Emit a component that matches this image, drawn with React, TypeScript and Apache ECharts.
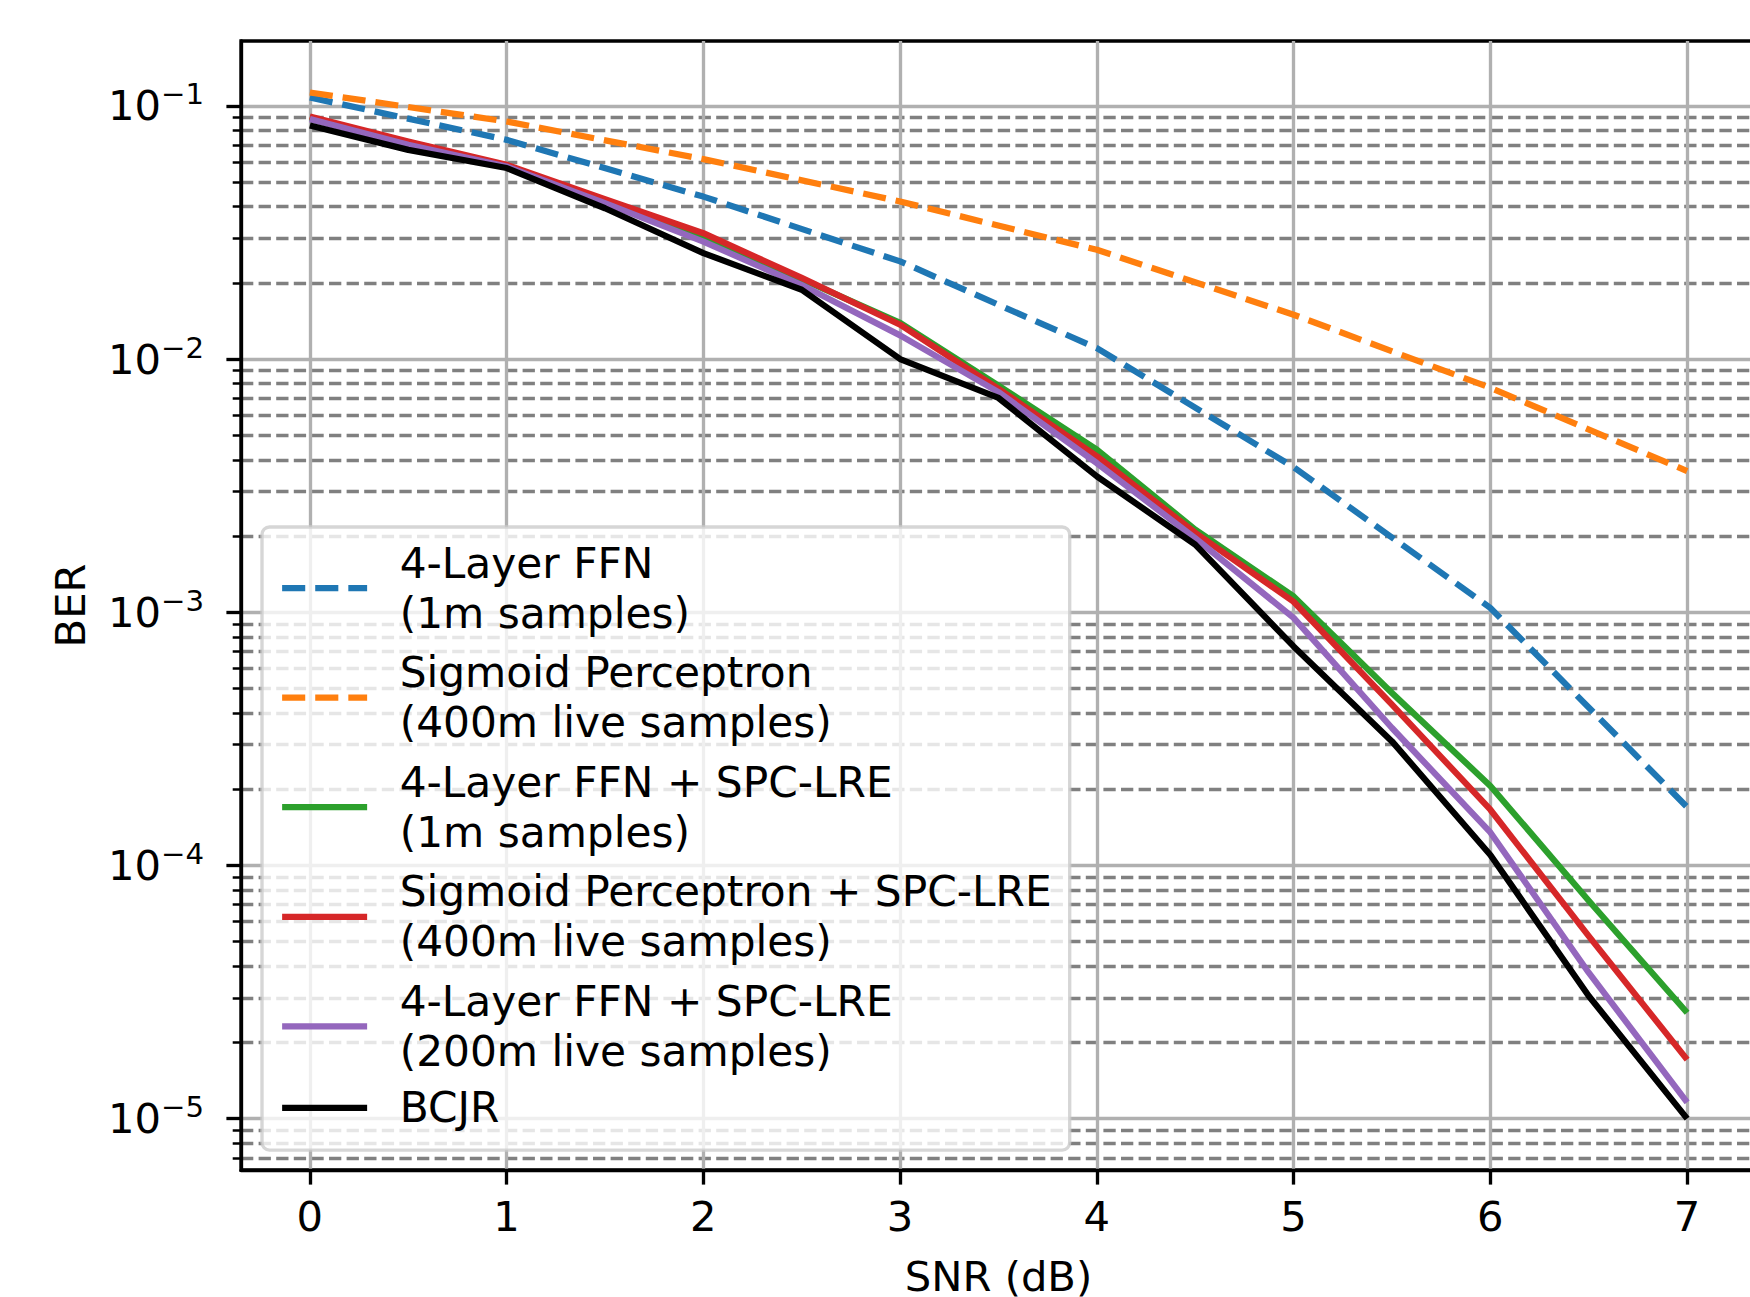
import React, { useEffect, useRef } from "react";
import * as echarts from "echarts";

// SNR grid (dB)
const snrHalf = [0, 0.5, 1, 1.5, 2, 2.5, 3, 3.5, 4, 4.5, 5, 5.5, 6, 6.5, 7];
const snrInt = [0, 1, 2, 3, 4, 5, 6, 7];

// BER values
const ffn1m = [0.1079, 0.0734, 0.0438, 0.0243, 0.01104, 0.00374, 0.00104, 0.00017];
const sigmoid400m = [0.1129, 0.0867, 0.0616, 0.0419, 0.027, 0.01496, 0.0077, 0.00361];
const ffnSpc1m = [0.09, 0.0718, 0.058, 0.0424, 0.0305, 0.0207, 0.0139, 0.00785, 0.00439, 0.00212, 0.001155, 0.00048, 0.000206, 0.0000726, 0.0000262];
const sigmoidSpc400m = [0.0908, 0.0723, 0.0585, 0.0428, 0.0314, 0.0209, 0.01366, 0.00763, 0.00413, 0.00206, 0.0011, 0.000432, 0.000166, 0.0000526, 0.0000171];
const ffnSpc200m = [0.0886, 0.0702, 0.0576, 0.0413, 0.0291, 0.0196, 0.0124, 0.0074, 0.00388, 0.00196, 0.00095, 0.000349, 0.000135, 0.0000377, 0.0000116];
const bcjr = [0.0836, 0.067, 0.0568, 0.0394, 0.0262, 0.01877, 0.01, 0.00702, 0.00344, 0.00185, 0.000733, 0.000309, 0.00011, 0.0000305, 0.00001];

// Ticks
const xTicks = [0, 1, 2, 3, 4, 5, 6, 7];
const yMajorTicks = [1e-1, 1e-2, 1e-3, 1e-4, 1e-5];
const yMinorTicks = [
  9e-2, 8e-2, 7e-2, 6e-2, 5e-2, 4e-2, 3e-2, 2e-2,
  9e-3, 8e-3, 7e-3, 6e-3, 5e-3, 4e-3, 3e-3, 2e-3,
  9e-4, 8e-4, 7e-4, 6e-4, 5e-4, 4e-4, 3e-4, 2e-4,
  9e-5, 8e-5, 7e-5, 6e-5, 5e-5, 4e-5, 3e-5, 2e-5,
  9e-6, 8e-6, 7e-6,
];

const seriesNames = [
  "4-Layer FFN\n(1m samples)",
  "Sigmoid Perceptron\n(400m live samples)",
  "4-Layer FFN + SPC-LRE\n(1m samples)",
  "Sigmoid Perceptron + SPC-LRE\n(400m live samples)",
  "4-Layer FFN + SPC-LRE\n(200m live samples)",
  "BCJR",
];
const seriesColors = ["#1f77b4", "#ff7f0e", "#2ca02c", "#d62728", "#9467bd", "#000000"];
const seriesDashed = [true, true, false, false, false, false];

const FONT = "DejaVu Sans";
const Y_MIN = 6.27e-6;
const Y_MAX = 0.1803;
const DASH = [23.1, 10];

export default function App() {
  const ref = useRef<HTMLDivElement>(null);

  useEffect(() => {
    if (!ref.current) return;
    const chart = echarts.init(ref.current, null, { renderer: "svg" });

    const mk = (i: number, xs: number[], ys: number[]) => ({
      name: seriesNames[i],
      type: "line",
      data: xs.map((x, k) => [x, ys[k]]),
      symbol: "none",
      showSymbol: false,
      smooth: false,
      xAxisIndex: 0,
      yAxisIndex: 0,
      z: 3 + i,
      itemStyle: { color: seriesColors[i] },
      lineStyle: {
        color: seriesColors[i],
        width: 6.25,
        type: seriesDashed[i] ? DASH : "solid",
        cap: "butt",
        join: "round",
      },
      emphasis: { disabled: true },
    });

    const option: any = {
      animation: false,
      backgroundColor: "#ffffff",
      textStyle: { fontFamily: FONT, color: "#000" },
      grid: {
        left: 241,
        top: 41,
        width: 1515,
        height: 1129,
        show: true,
        borderColor: "#000",
        borderWidth: 3.33,
        backgroundColor: "transparent",
        containLabel: false,
        outerBoundsMode: "none",
      },
      legend: {
        show: true,
        orient: "vertical",
        left: 262,
        top: 527,
        padding: [11, 18, 20.6, 17],
        itemGap: 9.6,
        itemWidth: 85,
        itemHeight: 14,
        backgroundColor: "rgba(255,255,255,0.8)",
        borderColor: "rgba(204,204,204,0.8)",
        borderWidth: 3.33,
        borderRadius: 7.5,
        selectedMode: false,
        itemStyle: { opacity: 0, borderWidth: 0 },
        lineStyle: { width: 6.25, cap: "butt" },
        textStyle: {
          fontFamily: FONT,
          fontSize: 42.3,
          lineHeight: 50,
          color: "#000",
          padding: [0, 0, 0, 27.5],
        },
        data: seriesNames.map((n, i) => ({
          name: n,
          itemStyle: { opacity: 0, borderWidth: 0 },
          lineStyle: {
            width: 6.25,
            color: seriesColors[i],
            type: seriesDashed[i] ? DASH : "solid",
            cap: "butt",
          },
          ...(i === seriesNames.length - 1 ? { textStyle: { lineHeight: 43.5 } } : {}),
        })),
      },
      xAxis: {
        type: "value",
        min: -0.35,
        max: 7.35,
        axisLine: { show: true, onZero: false, lineStyle: { color: "#000", width: 3.33 } },
        axisTick: {
          show: true,
          customValues: xTicks,
          length: 14.6,
          lineStyle: { color: "#000", width: 3.33 },
        },
        axisLabel: {
          show: true,
          customValues: xTicks,
          margin: 25.4,
          fontFamily: FONT,
          fontSize: 41.7,
          lineHeight: 42,
          color: "#000",
        },
        splitLine: { show: true, lineStyle: { color: "#b0b0b0", width: 3.33 } },
        name: "SNR (dB)",
        nameLocation: "middle",
        nameGap: 85,
        nameTextStyle: { fontFamily: FONT, fontSize: 41.7, lineHeight: 42, color: "#000" },
      },
      yAxis: [
        {
          type: "log",
          logBase: 10,
          min: Y_MIN,
          max: Y_MAX,
          position: "left",
          axisLine: { show: true, onZero: false, lineStyle: { color: "#000", width: 3.33 } },
          axisTick: {
            show: true,
            customValues: yMajorTicks,
            length: 14.6,
            lineStyle: { color: "#000", width: 3.33 },
          },
          minorTick: { show: false },
          axisLabel: {
            show: true,
            customValues: yMajorTicks,
            margin: 37,
            formatter: (v: number) => "{a|10}{b|\u2212" + Math.round(-Math.log10(v)) + "}",
            rich: {
              a: { fontFamily: FONT, fontSize: 41.7, lineHeight: 52, verticalAlign: "middle", color: "#000" },
              b: { fontFamily: FONT, fontSize: 29.2, lineHeight: 29, verticalAlign: "top", color: "#000" },
            },
          },
          splitLine: { show: true, lineStyle: { color: "#b0b0b0", width: 3.33 } },
          name: "BER",
          nameLocation: "middle",
          nameRotate: 90,
          nameGap: 150,
          nameTextStyle: { fontFamily: FONT, fontSize: 41.7, lineHeight: 42, color: "#000" },
        },
        {
          type: "log",
          logBase: 10,
          min: Y_MIN,
          max: Y_MAX,
          position: "left",
          axisLine: { show: false, onZero: false },
          axisTick: {
            show: true,
            customValues: yMinorTicks,
            length: 8.3,
            lineStyle: { color: "#000", width: 2.5 },
          },
          minorTick: { show: false },
          axisLabel: { show: false },
          splitLine: {
            show: true,
            lineStyle: { color: "#808080", width: 3.33, type: [12.3, 5.3] },
          },
        },
      ],
      series: [
        mk(0, snrInt, ffn1m),
        mk(1, snrInt, sigmoid400m),
        mk(2, snrHalf, ffnSpc1m),
        mk(3, snrHalf, sigmoidSpc400m),
        mk(4, snrHalf, ffnSpc200m),
        mk(5, snrHalf, bcjr),
      ],
    };

    chart.setOption(option);
    return () => {
      chart.dispose();
    };
  }, []);

  return (
    <div
      style={{ position: "absolute", left: 0, top: 0, width: 1750, height: 1297, overflow: "hidden", background: "#fff" }}
    >
      <div ref={ref} style={{ width: 1760, height: 1297 }} />
    </div>
  );
}
